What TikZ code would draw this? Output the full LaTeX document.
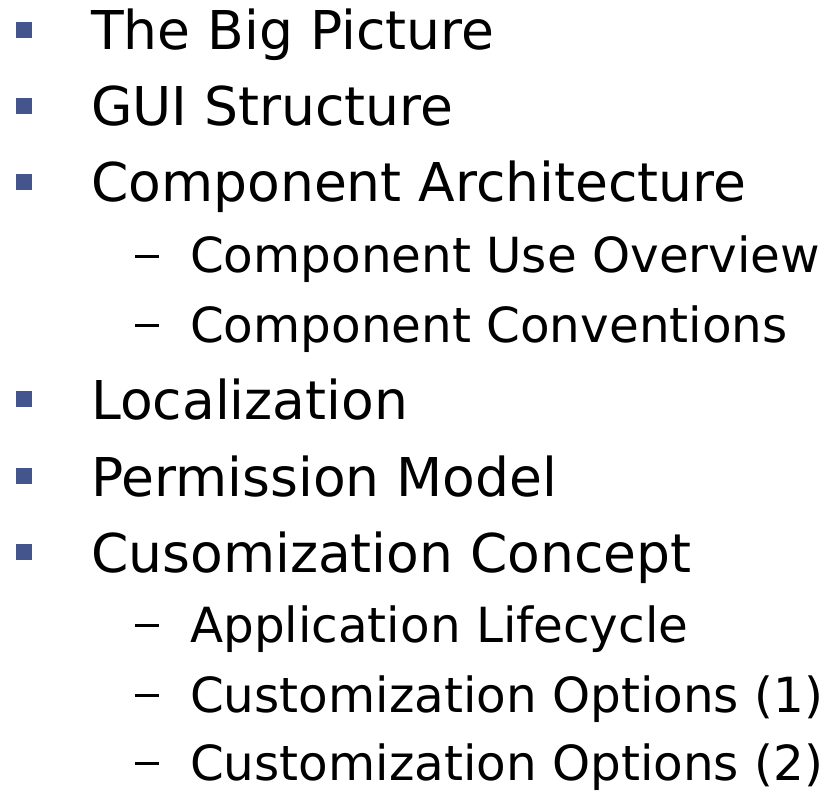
\documentclass[tikz,border=0pt]{standalone}
\usepackage{fontspec}
\setmainfont{DejaVu Sans}
\definecolor{bulletblue}{RGB}{68,84,140}
\tikzset{
  lvlone/.style={anchor=base west, inner sep=0pt, font=\fontsize{53.5}{60}\selectfont, text=black},
  lvltwo/.style={anchor=base west, inner sep=0pt, font=\fontsize{48.4}{56}\selectfont, text=black},
  sqbullet/.style={fill=bulletblue, draw=none, minimum size=16.5pt, inner sep=0pt, anchor=center},
  dashbullet/.style={fill=black, draw=none, minimum width=24pt, minimum height=3.2pt, inner sep=0pt, anchor=center}
}
\begin{document}
\begin{tikzpicture}[x=1pt,y=-1pt]
\useasboundingbox (0,0) rectangle (829,791);
% level one
\node[lvlone] (t1) at (91,50) {The Big Picture};
\node[lvlone] (t2) at (91,126) {GUI Structure};
\node[lvlone] (t3) at (91,202) {Component Architecture};
\node[lvlone] (t4) at (91,419) {Localization};
\node[lvlone] (t5) at (91,496) {Permission Model};
\node[lvlone] (t6) at (91,572) {Cusomization Concept};
\foreach \n/\y in {b1/50,b2/126,b3/202,b4/419,b5/496,b6/572}
  \node[sqbullet] (\n) at (24,\y-19.8) {};
% level two
\node[lvltwo] (s1) at (190,273) {Component Use Overview};
\node[lvltwo] (s2) at (190,342) {Component Conventions};
\node[lvltwo] (s3) at (190,642) {Application Lifecycle};
\node[lvltwo] (s4) at (190,712) {Customization Options (1)};
\node[lvltwo] (s5) at (190,780) {Customization Options (2)};
\foreach \n/\y in {d1/273,d2/342,d3/642,d4/712,d5/780}
  \node[dashbullet] (\n) at (146.5,\y-16.5) {};
\end{tikzpicture}
\end{document}
